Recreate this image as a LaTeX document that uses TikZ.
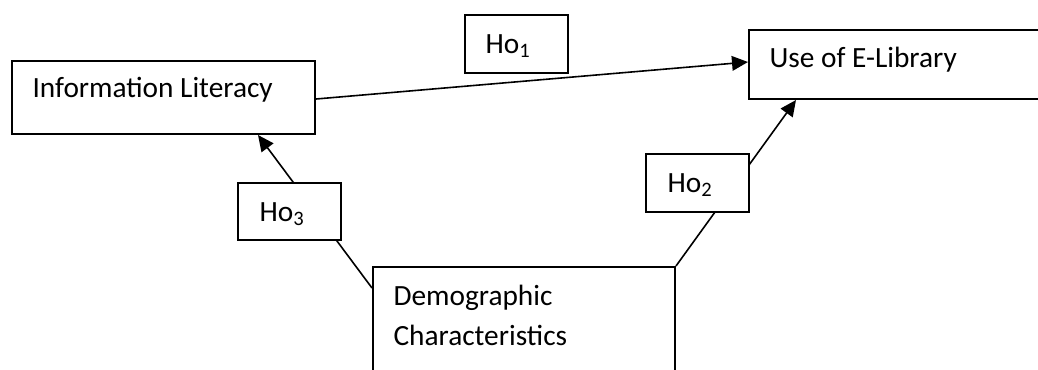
\documentclass[tikz,border=0pt]{standalone}
\usepackage{fontspec}
\setmainfont{Carlito}
\usetikzlibrary{arrows.meta,backgrounds}
\newdimen\pxu \pxu=0.375pt
\begin{document}
\begin{tikzpicture}[x=0.375pt,y=-0.375pt,
  box/.style={draw,line width=0.75pt,fill=white,rectangle,inner sep=0pt,anchor=north west},
  lbl/.style={anchor=base west,inner sep=0pt,font=\fontsize{11}{13}\selectfont},
  conn/.style={line width=0.6pt,-{Triangle[length=6pt,width=5.5pt]}}]
\useasboundingbox (0,0) rectangle (1038,369);
\clip (0,0) rectangle (1038,369);
% boxes
\node[box,minimum width=303\pxu,minimum height=73\pxu] (il) at (11,60) {};
\node[box,minimum width=300\pxu,minimum height=69\pxu] (el) at (748,29) {};
\node[box,minimum width=302\pxu,minimum height=140\pxu] (dc) at (372,266) {};
\node[box,minimum width=103\pxu,minimum height=58\pxu] (h1) at (464,14) {};
\node[box,minimum width=103\pxu,minimum height=58\pxu] (h2) at (645,153) {};
\node[box,minimum width=103\pxu,minimum height=57\pxu] (h3) at (237,182) {};
% texts
\node[lbl] (ilt) at (32,97) {Information Literacy};
\node[lbl] (elt) at (769,67) {Use of E-Library};
\node[lbl] (dct1) at (393,305) {Demographic};
\node[lbl] (dct2) at (393,345) {Characteristics};
\node[lbl] (h1t) at (485,53) {Ho\textsubscript{1}};
\node[lbl] (h2t) at (667,192) {Ho\textsubscript{2}};
\node[lbl] (h3t) at (259,221) {Ho\textsubscript{3}};
% connectors
\begin{scope}[on background layer]
\draw[conn] ([yshift=-1.5\pxu]il.east) -- ([yshift=2.5\pxu]el.west);
\draw[conn] ([yshift=-22\pxu]dc.north west) -- ([xshift=247\pxu]il.south west);
\draw[conn] (dc.north east) -- ([xshift=48\pxu]el.south west);
\end{scope}
\end{tikzpicture}
\end{document}
